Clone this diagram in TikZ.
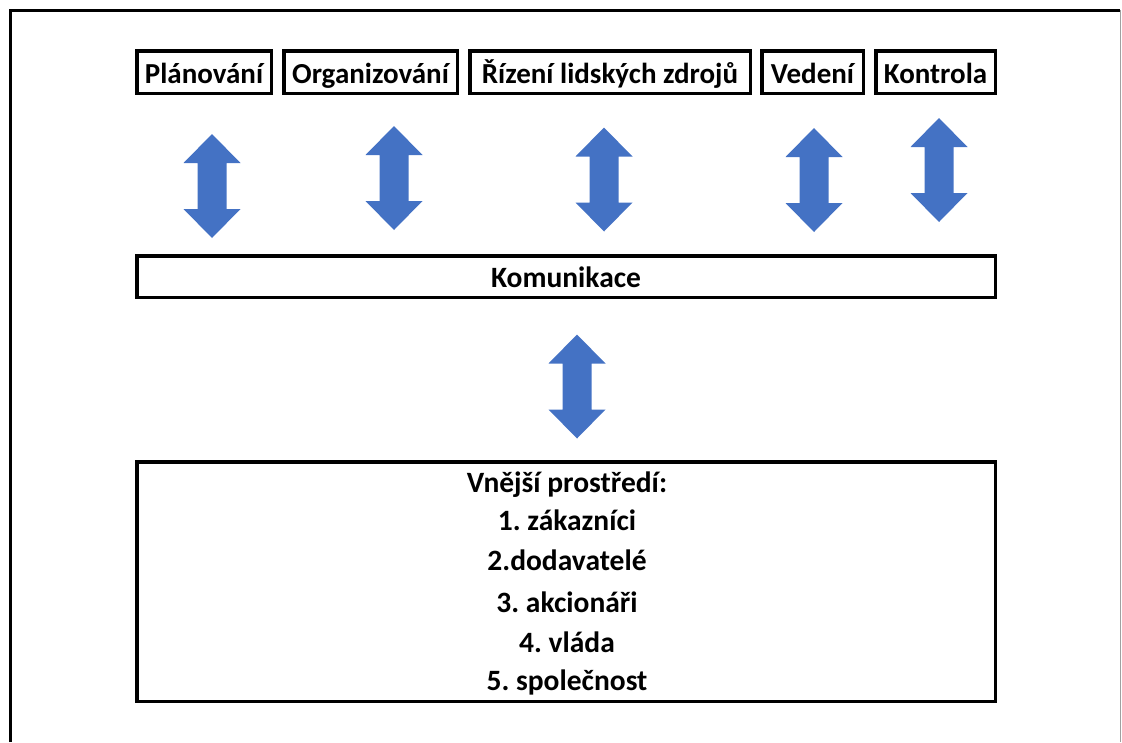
\documentclass[tikz,border=0pt]{standalone}
\usepackage{fontspec}
\setmainfont{Carlito}
\frenchspacing
\definecolor{arrowblue}{HTML}{4472C4}
\definecolor{edgegrey}{HTML}{A0A0A0}
\tikzset{
  boxstyle/.style={draw=black, line width=3.5pt, inner sep=0pt, fill=white,
    font=\bfseries\fontsize{29}{31}\selectfont, text height=24pt, text depth=2pt},
  bigtext/.style={font=\bfseries\fontsize{29.5}{31}\selectfont},
  listline/.style={anchor=base, inner sep=0pt, bigtext},
  dblarrow/.pic={
    \fill[arrowblue] (0,-52) -- (28.5,-23) -- (14.5,-23) -- (14.5,23) -- (28.5,23)
      -- (0,52) -- (-28.5,23) -- (-14.5,23) -- (-14.5,-23) -- (-28.5,-23) -- cycle;
  }
}
\begin{document}
\begin{tikzpicture}[x=1pt,y=-1pt]
\useasboundingbox (0,0) rectangle (1122,742);
% outer frame
\draw[line width=3pt] (10,742) -- (10,10) -- (1120,10);
\draw[edgegrey, line width=1pt] (1120.5,10) -- (1120.5,742);
% top boxes
\node[boxstyle, minimum width=134.5pt, minimum height=42.5pt] (plan) at (204,72) {Plánování};
\node[boxstyle, minimum width=173.5pt, minimum height=42.5pt] (org) at (370.5,72) {Organizování};
\node[boxstyle, minimum width=280.5pt, minimum height=42.5pt] (rlz) at (610,72) {Řízení lidských zdrojů};
\node[boxstyle, minimum width=101.5pt, minimum height=42.5pt] (ved) at (812.5,72) {Vedení};
\node[boxstyle, minimum width=119.5pt, minimum height=42.5pt] (kon) at (935.5,72) {Kontrola};
% communication
\node[boxstyle, bigtext, minimum width=858.5pt, minimum height=41.5pt] (kom) at (566,276.5) {Komunikace};
% environment box
\node[draw=black, line width=3.5pt, minimum width=858.5pt, minimum height=239.5pt, inner sep=0pt] (env) at (566,581.5) {};
\node[listline] (l0) at (567,492) {Vnější prostředí:};
\node[listline] (l1) at (567,530) {1. zákazníci};
\node[listline] (l2) at (567,570) {2.dodavatelé};
\node[listline] (l3) at (567,612) {3. akcionáři};
\node[listline] (l4) at (567,652) {4. vláda};
\node[listline] (l5) at (567,690) {5. společnost};
% block arrows
\pic at (212,186) {dblarrow};
\pic at (394,178) {dblarrow};
\pic at (604,179.5) {dblarrow};
\pic at (814,180) {dblarrow};
\pic at (939,170) {dblarrow};
\pic at (577,386.5) {dblarrow};
\end{tikzpicture}
\end{document}
